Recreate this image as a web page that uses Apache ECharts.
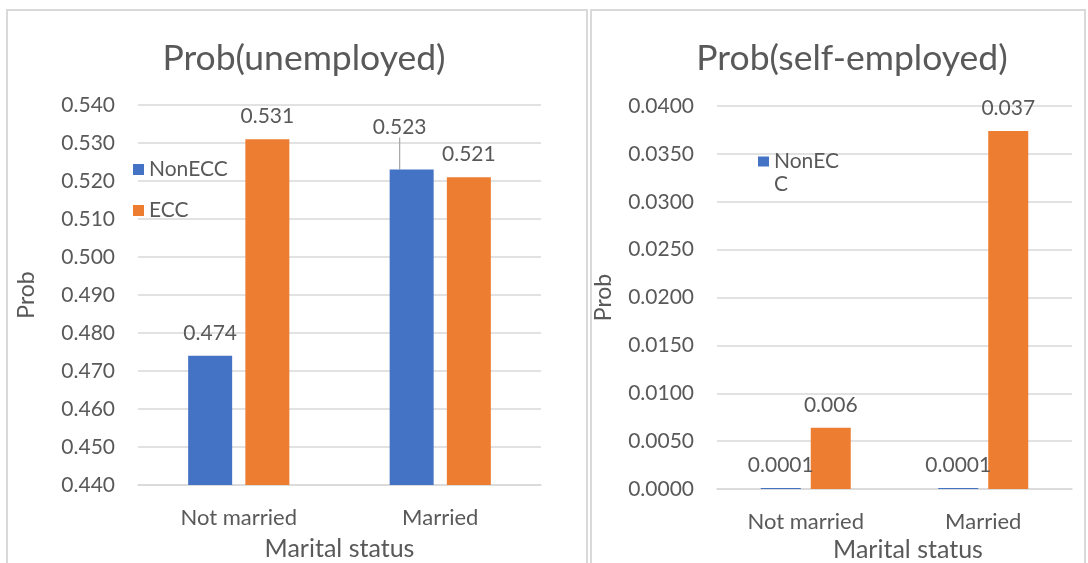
<!DOCTYPE html>
<html>
<head>
<meta charset="utf-8">
<script src="https://cdn.jsdelivr.net/npm/echarts@6/dist/echarts.min.js"></script>
<style>
html,body{margin:0;padding:0;background:#fff;}
#c{width:1088px;height:563px;}
</style>
</head>
<body>
<div id="c"></div>
<script>
// ---- data ----
const categories = ['Not married', 'Married'];
const seriesNames = ['NonECC', 'ECC'];
const unemployedNonECC = [0.474, 0.523];
const unemployedECC = [0.531, 0.521];
const selfEmpNonECC = [0.0001, 0.0001];
const selfEmpECC = [0.0064, 0.0374];
const titles = ['Prob(unemployed)', 'Prob(self-employed)'];
const xAxisName = 'Marital status';
const yAxisName = 'Prob';

const FONT = 'Lato';
const TXT = '#595959';
const GRID = '#d9d9d9';
const BLUE = '#4472C4';
const ORANGE = '#ED7D31';

const chart = echarts.init(document.getElementById('c'), null, {renderer: 'canvas'});

const axisLabelStyle = {color: TXT, fontFamily: FONT, fontSize: 21};

function xAxisCfg(gridIndex, nameGap, namePad) {
  return {
    type: 'category', gridIndex, data: categories,
    axisLine: {show: true, lineStyle: {color: GRID, width: 1.5}},
    axisTick: {show: false},
    axisLabel: Object.assign({margin: 22}, axisLabelStyle, {fontSize: 22}),
    name: xAxisName, nameLocation: 'middle', nameGap,
    nameTextStyle: {color: TXT, fontFamily: FONT, fontSize: 25, padding: namePad}
  };
}
function yAxisCfg(gridIndex, min, max, interval, dec, nameGap) {
  return {
    type: 'value', gridIndex, min, max, interval,
    axisLine: {show: false}, axisTick: {show: false},
    splitLine: {lineStyle: {color: GRID, width: 1.5}},
    axisLabel: Object.assign({margin: 23, formatter: v => v.toFixed(dec)}, axisLabelStyle),
    name: yAxisName, nameLocation: 'middle', nameGap, nameRotate: 90,
    nameTextStyle: {color: TXT, fontFamily: FONT, fontSize: 23}
  };
}
const labelBase = {show: true, position: 'top', distance: 12, color: TXT, fontFamily: FONT, fontSize: 21};

const option = {
  animation: false,
  backgroundColor: '#fff',
  graphic: [
    {type: 'rect', shape: {x: 7, y: 10, width: 580, height: 600}, style: {fill: 'none', stroke: GRID, lineWidth: 2}, silent: true},
    {type: 'rect', shape: {x: 591, y: 10, width: 494, height: 600}, style: {fill: 'none', stroke: GRID, lineWidth: 2}, silent: true}
  ],
  title: [
    {text: titles[0], left: 299, top: 36, textAlign: 'center',
     textStyle: {color: TXT, fontFamily: FONT, fontSize: 35.5, fontWeight: 'normal'}},
    {text: titles[1], left: 847, top: 36, textAlign: 'center',
     textStyle: {color: TXT, fontFamily: FONT, fontSize: 35.5, fontWeight: 'normal'}}
  ],
  legend: [
    {data: seriesNames, orient: 'vertical', left: 128, top: 154, itemGap: 20,
     icon: 'rect', itemWidth: 11, itemHeight: 11,
     textStyle: {color: TXT, fontFamily: FONT, fontSize: 21}},
    {data: [seriesNames[0]], orient: 'vertical', left: 753, top: 145,
     icon: 'path://M0,0 M0,46 M0,6.5h11v10h-11z', itemWidth: 11, itemHeight: 46,
     textStyle: {color: TXT, fontFamily: FONT, fontSize: 21, width: 68, overflow: 'breakAll', lineHeight: 23}}
  ],
  grid: [
    {left: 138, right: 1088 - 541, top: 105, bottom: 563 - 485, containLabel: false, outerBoundsMode: 'none'},
    {left: 717, right: 1088 - 1072, top: 106, bottom: 563 - 489, containLabel: false, outerBoundsMode: 'none'}
  ],
  xAxis: [xAxisCfg(0, 51, [0, 0, 0, 0]), xAxisCfg(1, 47, [0, 0, 0, 27])],
  yAxis: [yAxisCfg(0, 0.44, 0.54, 0.01, 3, 100), yAxisCfg(1, 0, 0.04, 0.005, 4, 102)],
  series: [
    {name: seriesNames[0], type: 'bar', xAxisIndex: 0, yAxisIndex: 0,
     data: unemployedNonECC.map((v, i) => i === 1 ? {value: v, labelLine: {show: true, lineStyle: {color: '#a6a6a6', width: 1.2}}} : v),
     barWidth: 44, barGap: '30%', itemStyle: {color: BLUE},
     label: Object.assign({formatter: p => p.value.toFixed(3)}, labelBase),
     labelLayout: p => p.dataIndex === 1 ? {dx: -12, dy: -20} : {}},
    {name: seriesNames[1], type: 'bar', xAxisIndex: 0, yAxisIndex: 0, data: unemployedECC,
     barWidth: 44, barGap: '30%', itemStyle: {color: ORANGE},
     label: Object.assign({formatter: p => p.value.toFixed(3)}, labelBase)},
    {name: seriesNames[0], type: 'bar', xAxisIndex: 1, yAxisIndex: 1, data: selfEmpNonECC,
     barWidth: 40, barGap: '25%', itemStyle: {color: BLUE},
     label: Object.assign({formatter: p => String(p.value)}, labelBase)},
    {name: seriesNames[1], type: 'bar', xAxisIndex: 1, yAxisIndex: 1, data: selfEmpECC,
     barWidth: 40, barGap: '25%', itemStyle: {color: ORANGE},
     label: Object.assign({formatter: p => p.value.toFixed(3)}, labelBase)}
  ]
};
chart.setOption(option);
</script>
</body>
</html>
